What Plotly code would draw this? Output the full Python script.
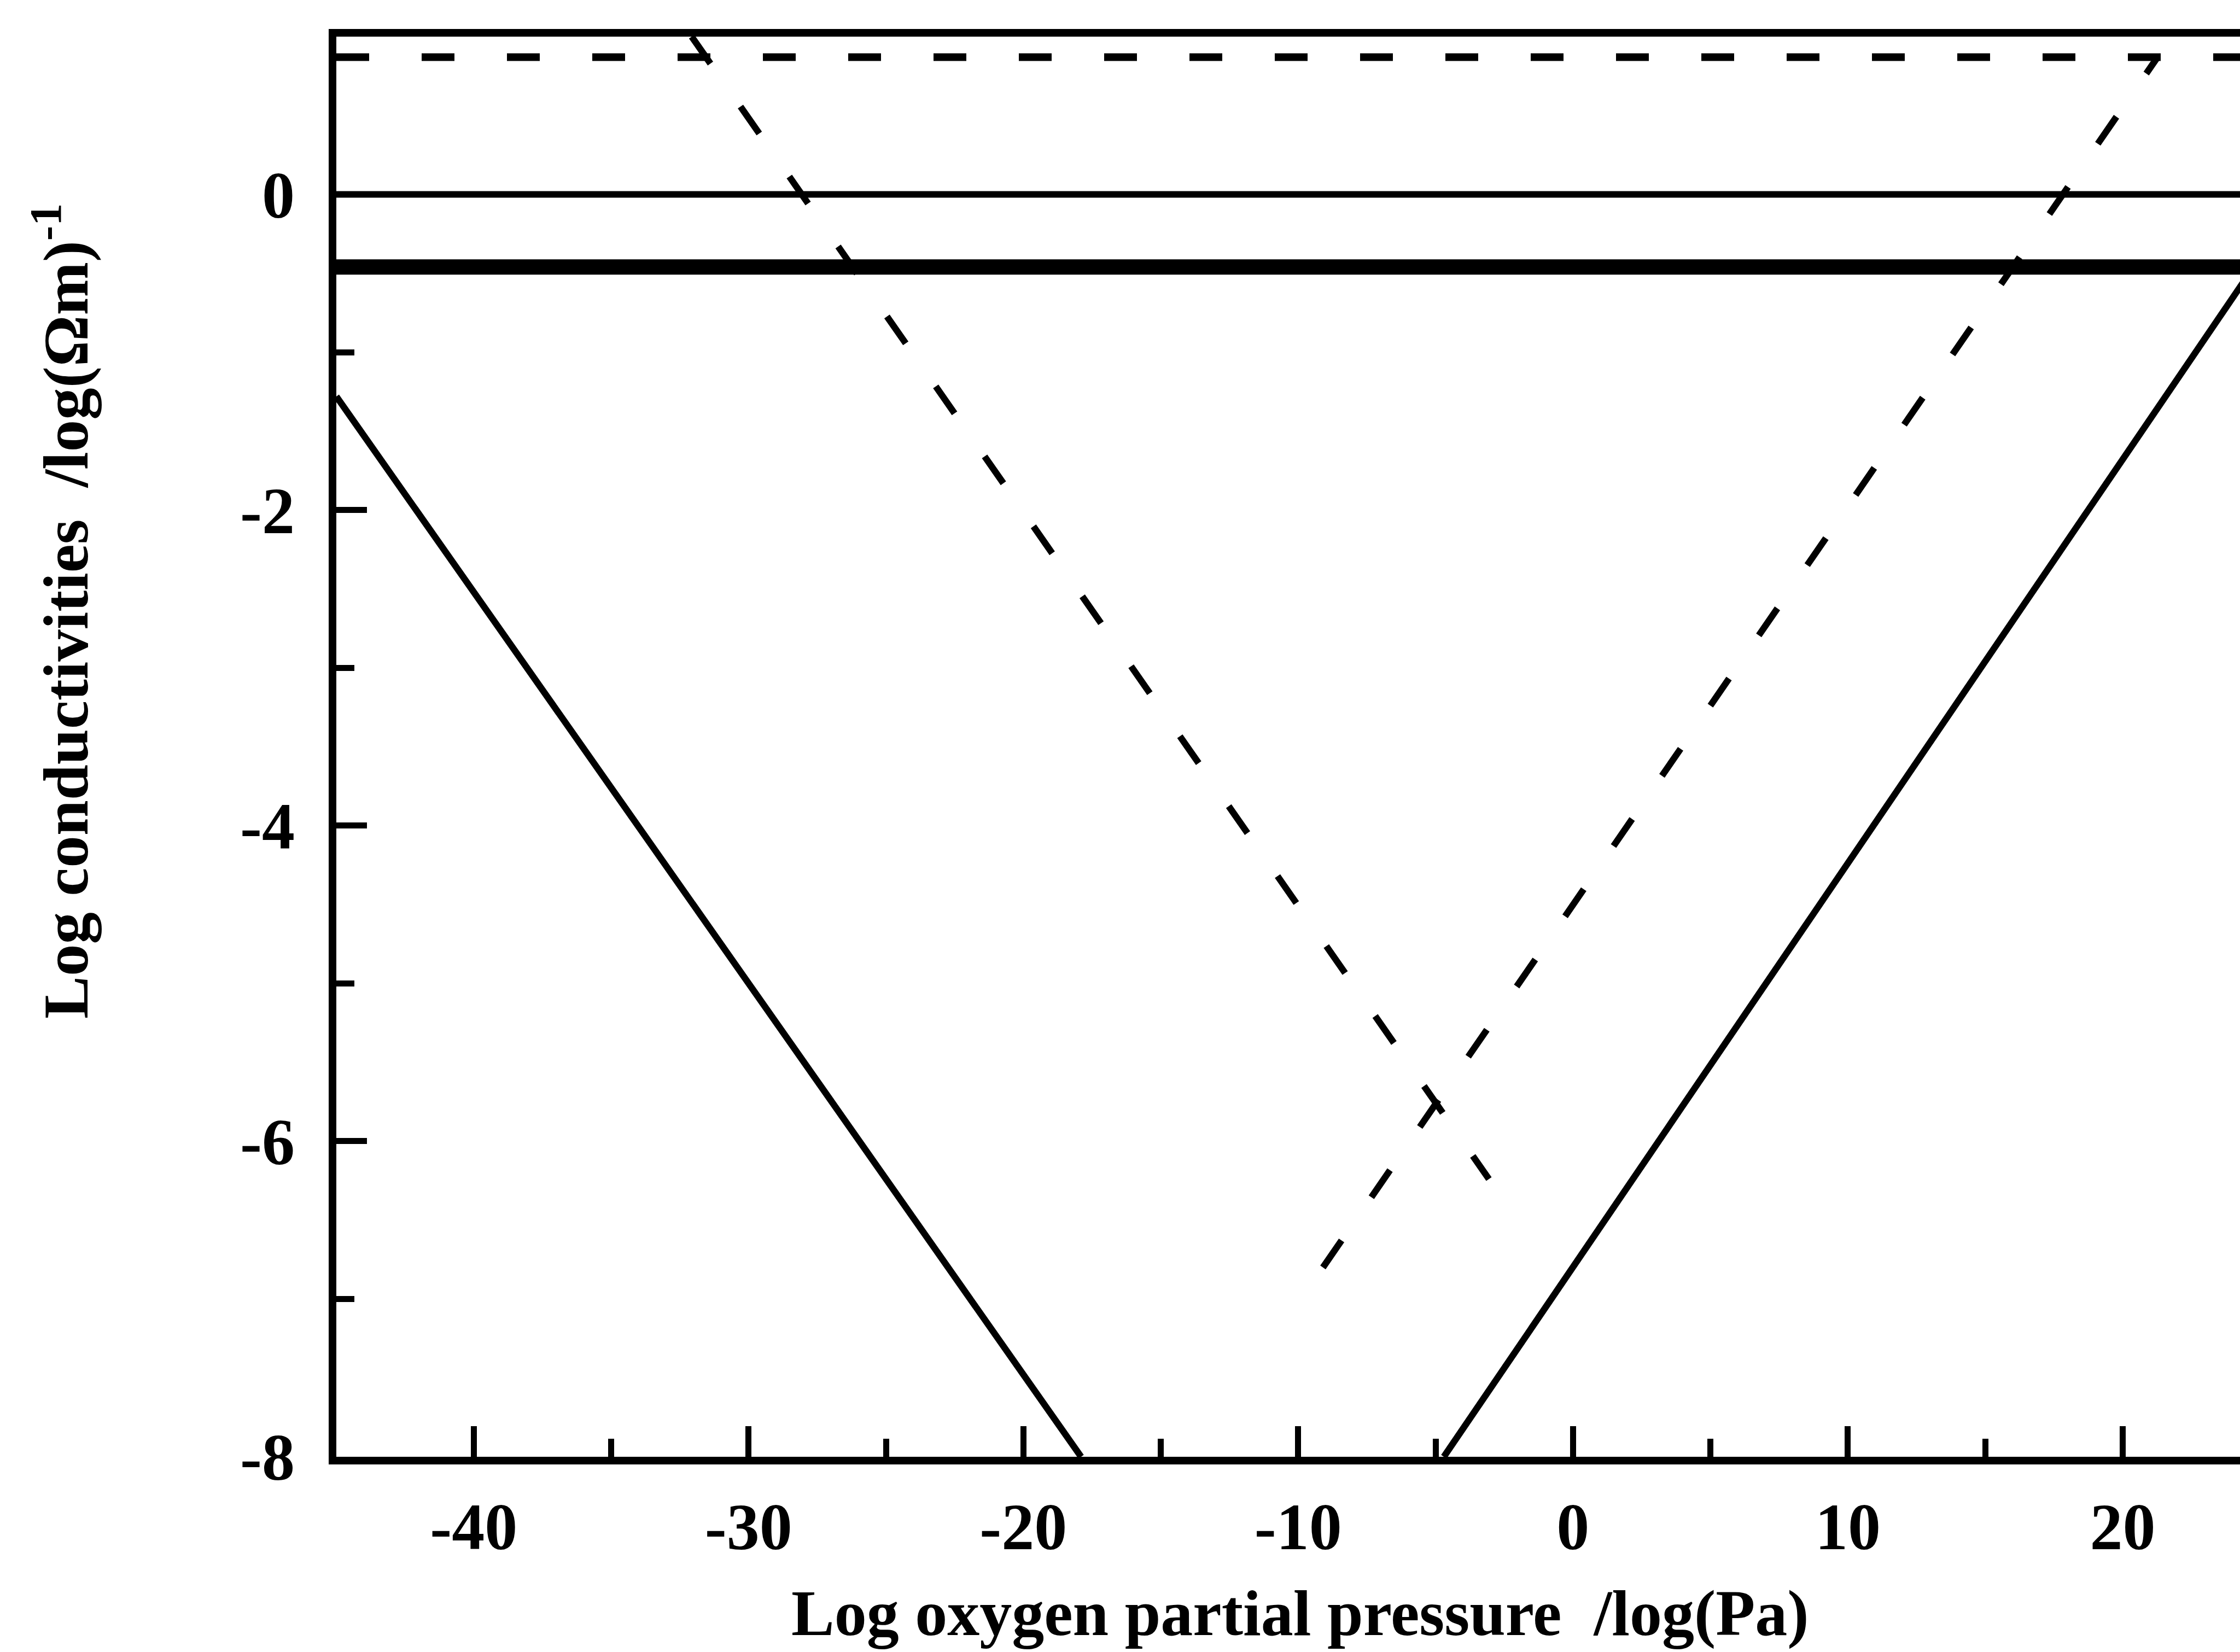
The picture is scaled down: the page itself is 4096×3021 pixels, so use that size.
import plotly.graph_objects as go

# ---- axes ----
x_range = [-45, 24.27]
y_range = [-8, 1]
x_tick_vals = [-40, -30, -20, -10, 0, 10, 20]
x_tick_text = ["-40", "-30", "-20", "-10", "0", "10", "20"]
y_tick_vals = [0, -2, -4, -6, -8]
y_tick_text = ["0", "-2", "-4", "-6", "-8"]

# ---- conductivity branches: log pO2 (Pa) vs log sigma ----
# solid V: n-type (slope -1/4) and p-type (slope +1/4) electronic
n_type_x = [-45, -17.9]
n_type_y = [-1.28, -8]
p_type_x = [-4.7, 25.0]
p_type_y = [-8, -0.40]

# dashed V
dash_down_x = [-32.07, -3.06]
dash_down_y = [1.0, -6.24]
dash_up_x = [-9.1, 21.27]
dash_up_y = [-6.8, 0.87]

# horizontal levels
dash_level_x = [-45, 24.27]
dash_level_y = [0.87, 0.87]
ionic_thin_x = [-45, 24.27]
ionic_thin_y = [0.0, 0.0]
ionic_thick_x = [-45, 24.27]
ionic_thick_y = [-0.46, -0.46]

W, H = 4096, 3021
L, R, T, B = 615, 0, 67, 357
PW, PH = W - L - R, H - T - B

FONT = "Liberation Serif"
INK = "#000000"
DASH = "60px,96px"

fig = go.Figure()


def add_line(xs, ys, width, dash="solid"):
    fig.add_trace(go.Scatter(
        x=xs, y=ys, mode="lines",
        line=dict(color=INK, width=width, dash=dash),
        hoverinfo="skip", showlegend=False,
    ))


add_line(ionic_thick_x, ionic_thick_y, 28)
add_line(ionic_thin_x, ionic_thin_y, 12)
add_line(dash_level_x, dash_level_y, 14, DASH)
add_line(dash_down_x, dash_down_y, 12, DASH)
add_line(dash_up_x, dash_up_y, 12, DASH)
add_line(n_type_x, n_type_y, 12)
add_line(p_type_x, p_type_y, 12)


def px_to_paper_x(px):
    return (px - L) / PW


def px_to_paper_y(py):
    return (H - B - py) / PH


fig.update_layout(
    width=W, height=H,
    margin=dict(l=L, r=R, t=T, b=B, pad=0),
    paper_bgcolor="white", plot_bgcolor="white",
    font=dict(family=FONT, color=INK, size=120, weight="bold"),
    xaxis=dict(
        range=x_range, showgrid=False, zeroline=False,
        showline=True, linecolor=INK, linewidth=14, mirror=True,
        tickmode="array", tickvals=x_tick_vals, ticktext=x_tick_text,
        ticks="inside", ticklen=56, tickwidth=11, tickcolor=INK,
        minor=dict(ticks="inside", dtick=5, tick0=0, ticklen=33,
                   tickwidth=11, tickcolor=INK, showgrid=False),
        tickfont=dict(family=FONT, size=120, color=INK, weight="bold"),
        ticklabelstandoff=11,
    ),
    yaxis=dict(
        range=y_range, showgrid=False, zeroline=False,
        showline=True, linecolor=INK, linewidth=14, mirror=False,
        tickmode="array", tickvals=y_tick_vals, ticktext=y_tick_text,
        ticks="inside", ticklen=56, tickwidth=11, tickcolor=INK,
        minor=dict(ticks="inside", dtick=1, tick0=0, ticklen=33,
                   tickwidth=11, tickcolor=INK, showgrid=False),
        tickfont=dict(family=FONT, size=120, color=INK, weight="bold"),
        ticklabelstandoff=38,
    ),
    annotations=[
        dict(
            text="Log oxygen partial pressure\u00a0\u00a0/log(Pa)",
            xref="paper", yref="paper",
            x=px_to_paper_x(2377), y=px_to_paper_y(2950),
            xanchor="center", yanchor="middle", showarrow=False,
            font=dict(family=FONT, size=118, color=INK, weight="bold"),
        ),
        dict(
            text="Log conductivities\u00a0\u00a0/log(\u03a9m)<sup>-1</sup>",
            xref="paper", yref="paper",
            x=px_to_paper_x(112), y=px_to_paper_y(1118),
            xanchor="center", yanchor="middle", showarrow=False,
            textangle=-90,
            font=dict(family=FONT, size=117, color=INK, weight="bold"),
        ),
    ],
)

fig.write_html("out.html")
